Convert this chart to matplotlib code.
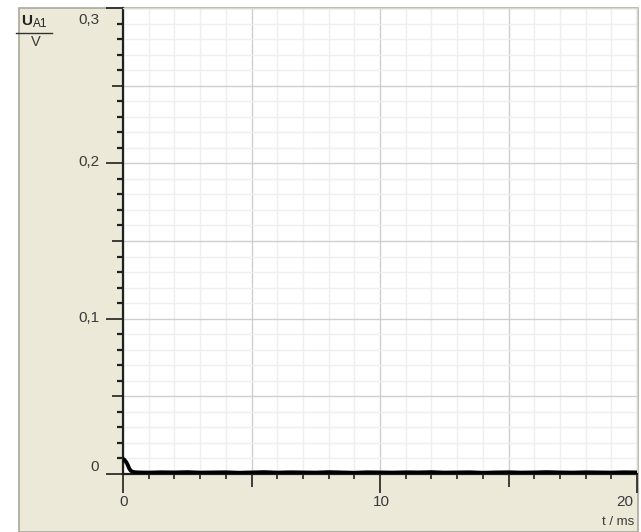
import matplotlib.pyplot as plt
from matplotlib.patches import Rectangle
from matplotlib.lines import Line2D
from matplotlib.ticker import MultipleLocator, NullFormatter

# Messwerte (t in ms, U in V)
t_anfang = [0.0, 0.05, 0.1, 0.15, 0.2, 0.25, 0.3, 0.35, 0.4, 0.5, 0.6]
u_anfang = [0.0098, 0.0092, 0.0082, 0.0070, 0.0052, 0.0033, 0.0022, 0.0016, 0.0013, 0.0011, 0.0010]

t_rest = [1.0, 1.5, 2.0, 2.5, 3.0, 3.5, 4.0, 4.5, 5.0, 5.5, 6.0, 6.5, 7.0, 7.5,
          8.0, 8.5, 9.0, 9.5, 10.0, 10.5, 11.0, 11.5, 12.0, 12.5, 13.0, 13.5,
          14.0, 14.5, 15.0, 15.5, 16.0, 16.5, 17.0, 17.5, 18.0, 18.5, 19.0,
          19.5, 20.0]
u_rest = [0.0009, 0.0011, 0.0010, 0.0012, 0.0009, 0.0010, 0.0011, 0.0008,
          0.0010, 0.0012, 0.0009, 0.0011, 0.0010, 0.0009, 0.0012, 0.0010,
          0.0008, 0.0011, 0.0010, 0.0009, 0.0011, 0.0010, 0.0012, 0.0009,
          0.0010, 0.0011, 0.0008, 0.0010, 0.0011, 0.0009, 0.0010, 0.0012,
          0.0010, 0.0009, 0.0011, 0.0010, 0.0009, 0.0011, 0.0010]

t_werte = t_anfang + t_rest
u_werte = u_anfang + u_rest

y_ticks = [0.0, 0.1, 0.2, 0.3]
y_labels = ["0", "0,1", "0,2", "0,3"]
x_ticks = [0, 10, 20]
x_labels = ["0", "10", "20"]

FONT = ['Liberation Sans Narrow', 'Liberation Sans', 'DejaVu Sans']
TXT = '#3A3A3A'
W, H = 641, 532

fig = plt.figure(figsize=(W / 100, H / 100), dpi=100)
fig.patch.set_facecolor('white')

# Hintergrund-Panel (Windows-Look)
panel = Rectangle((19 / W, 0), (638 - 19) / W, (H - 8) / H, transform=fig.transFigure,
                  facecolor='#ECE9D8', edgecolor='#A8A89A', linewidth=1.2, zorder=-5)
fig.add_artist(panel)

ax = fig.add_axes([123 / W, (H - 474) / H, (637 - 123) / W, (474 - 8) / H])
ax.set_zorder(1)
ax.set_facecolor('white')
ax.set_xlim(0, 20)
ax.set_ylim(0, 0.3)

# Gitter
ax.xaxis.set_major_locator(MultipleLocator(5))
ax.xaxis.set_minor_locator(MultipleLocator(1))
ax.yaxis.set_major_locator(MultipleLocator(0.05))
ax.yaxis.set_minor_locator(MultipleLocator(0.01))
ax.grid(which='minor', color='#EFEFEF', linewidth=1)
ax.grid(which='major', color='#CFCFCF', linewidth=1)
ax.set_axisbelow(True)

ax.plot(t_werte, u_werte, color='black', linewidth=2.8, solid_joinstyle='round', zorder=3)

for s in ['top', 'right']:
    ax.spines[s].set_color('#D8D8D0')
    ax.spines[s].set_linewidth(1)
for s in ['left', 'bottom']:
    ax.spines[s].set_color('#202020')
    ax.spines[s].set_linewidth(1.6)

ax.tick_params(which='both', direction='out', color='#202020')
ax.tick_params(which='minor', axis='y', length=4.5, width=1.6)
ax.tick_params(which='minor', axis='x', length=3.5, width=1.2)
ax.tick_params(which='major', axis='y', length=8, width=1.2)
ax.tick_params(which='major', axis='x', length=9.5, width=1.2)
ax.xaxis.set_major_formatter(NullFormatter())
ax.yaxis.set_major_formatter(NullFormatter())

# lange Striche bei den beschrifteten Werten
for tick, v in zip(ax.yaxis.get_major_ticks(), ax.yaxis.get_majorticklocs()):
    if any(abs(v - w) < 1e-6 for w in y_ticks):
        tick.tick1line.set_markersize(12.5)
for tick, v in zip(ax.xaxis.get_major_ticks(), ax.xaxis.get_majorticklocs()):
    if any(abs(v - w) < 1e-6 for w in x_ticks):
        tick.tick1line.set_markersize(13.5)

# Beschriftungen (Randwerte etwas nach innen verschoben)
for v, s in zip(y_ticks, y_labels):
    dy = -12 if v == max(y_ticks) else (7 if v == 0 else 1)
    ax.annotate(s, xy=(0, v), xycoords=('axes fraction', 'data'), xytext=(-24, dy),
                textcoords='offset pixels', ha='right', va='center', fontsize=11,
                family=FONT, color=TXT, annotation_clip=False)
for v, s in zip(x_ticks, x_labels):
    dx = -4 if v == max(x_ticks) else 1
    ax.annotate(s, xy=(v, 0), xycoords=('data', 'axes fraction'), xytext=(dx, -28),
                textcoords='offset pixels', ha='right' if v == max(x_ticks) else 'center',
                va='center', fontsize=11, family=FONT, color=TXT, annotation_clip=False)

fig.text(634 / W, 1 - 522 / H, "t / ms", ha='right', va='center', fontsize=9.5, family=FONT, color=TXT)

# Größe oben links: U_A1 / V
fig.text(21 / W, 1 - 21 / H, "U", ha='left', va='center', fontsize=11, family=FONT, color='#222222',
         fontweight='bold')
fig.text(33 / W, 1 - 24 / H, "A1", ha='left', va='center', fontsize=8.5, family=FONT, color='#222222')
fig.add_artist(Line2D([16 / W, 52 / W], [1 - 33 / H, 1 - 33 / H], transform=fig.transFigure,
                      color='#333333', linewidth=1))
fig.text(36 / W, 1 - 42 / H, "V", ha='center', va='center', fontsize=10.5, family=FONT, color=TXT)

fig.savefig('out.png', dpi=100)
